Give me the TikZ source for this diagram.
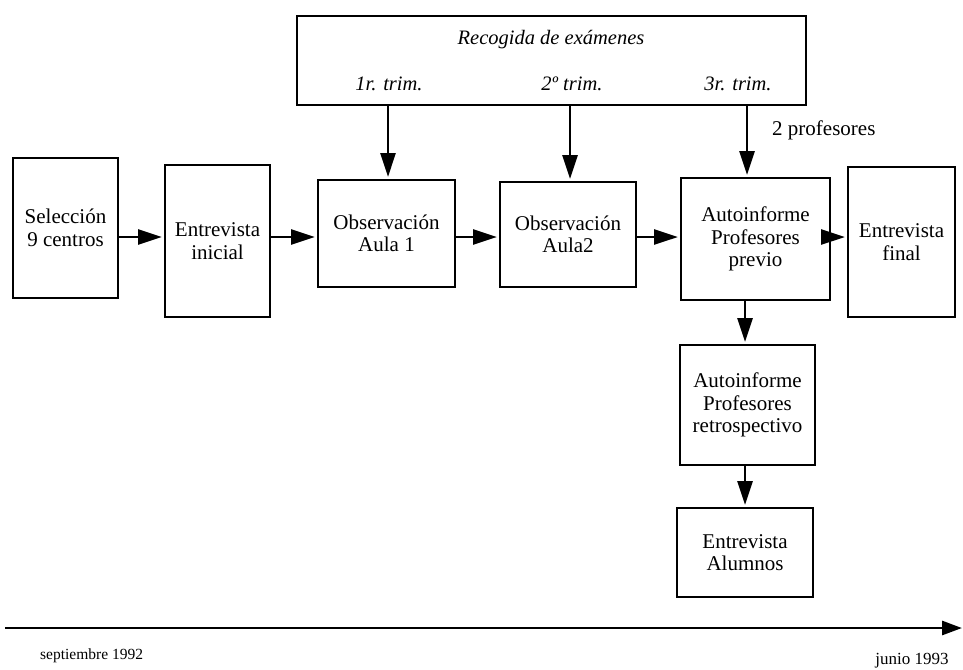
\documentclass[tikz,border=0pt]{standalone}
\usepackage{fontspec}
\setmainfont{Liberation Serif}
\usetikzlibrary{arrows.meta}
\tikzset{
  box/.style={draw, line width=2pt, inner sep=0pt, outer sep=0pt, align=center, font=\fontsize{21}{22.5}\selectfont},
  txt/.style={align=center, inner sep=0pt, font=\fontsize{21}{22.5}\selectfont},
  itxt/.style={inner sep=0pt, font=\fontsize{20.5}{24}\selectfont\itshape},
  small/.style={inner sep=0pt, font=\fontsize{15.5}{18}\selectfont},
  arr/.style={line width=2.8pt, -{Triangle[length=24pt,width=15pt]}, shorten >=3pt},
}
\begin{document}
\begin{tikzpicture}[x=1pt,y=-1pt]
\useasboundingbox (0,0) rectangle (963,669);
% boxes
\node[box, minimum width=509pt, minimum height=89pt] (top) at (551.5,60.5) {};
\node[box, minimum width=105pt, minimum height=140pt] (sel) at (65.5,228) {Selección\\9 centros};
\node[box, minimum width=105pt, minimum height=152pt] (ent) at (217.5,241) {Entrevista\\inicial};
\node[box, minimum width=137pt, minimum height=107pt] (obs1) at (386.5,233.5) {Observación\\Aula 1};
\node[box, minimum width=136pt, minimum height=105pt] (obs2) at (568,234.5) {Observación\\Aula2};
\node[box, minimum width=149pt, minimum height=122pt] (prev) at (755.5,239) {Autoinforme\\Profesores\\previo};
\node[box, minimum width=107pt, minimum height=150pt] (fin) at (901.5,242) {Entrevista\\final};
\node[box, minimum width=135pt, minimum height=120pt] (retro) at (747.5,405) {Autoinforme\\Profesores\\retrospectivo};
\node[box, minimum width=136pt, minimum height=89pt] (alum) at (745,552.5) {Entrevista\\Alumnos};
% texts in the top box
\node[itxt] (rec) at (551,40) {Recogida de exámenes};
\node[itxt] (t1) at (389,84) {1r. trim.};
\node[itxt] (t2) at (572,84) {2º trim.};
\node[itxt] (t3) at (738,84) {3r. trim.};
\node[txt, anchor=west] (prof) at (772,130) {2 profesores};
% connectors
\coordinate (row) at (0,237);
\coordinate (c1) at (388,0);
\coordinate (c2) at (570,0);
\coordinate (c3) at (747,0);
\coordinate (c4) at (745,0);
\draw[arr] (sel.east |- row) -- (ent.west |- row);
\draw[arr] (ent.east |- row) -- (obs1.west |- row);
\draw[arr] (obs1.east |- row) -- (obs2.west |- row);
\draw[arr] (obs2.east |- row) -- (prev.west |- row);
\draw[arr] (prev.east |- row) -- (fin.west |- row);
\draw[arr] (top.south -| c1) -- (obs1.north -| c1);
\draw[arr] (top.south -| c2) -- (obs2.north -| c2);
\draw[arr] (top.south -| c3) -- (prev.north -| c3);
\draw[arr] (prev.south -| c4) -- (retro.north -| c4);
\draw[arr] (retro.south -| c4) -- (alum.north -| c4);
% timeline
\coordinate (tl0) at (5,628);
\coordinate (tl1) at (962,628);
\draw[line width=2.8pt, -{Triangle[length=20pt,width=14pt]}] (tl0) -- (tl1);
\node[small, anchor=west] (sep) at (40,656) {septiembre 1992};
\node[inner sep=0pt, font=\fontsize{17}{20}\selectfont] (jun) at (912,661) {junio 1993};
\end{tikzpicture}
\end{document}
